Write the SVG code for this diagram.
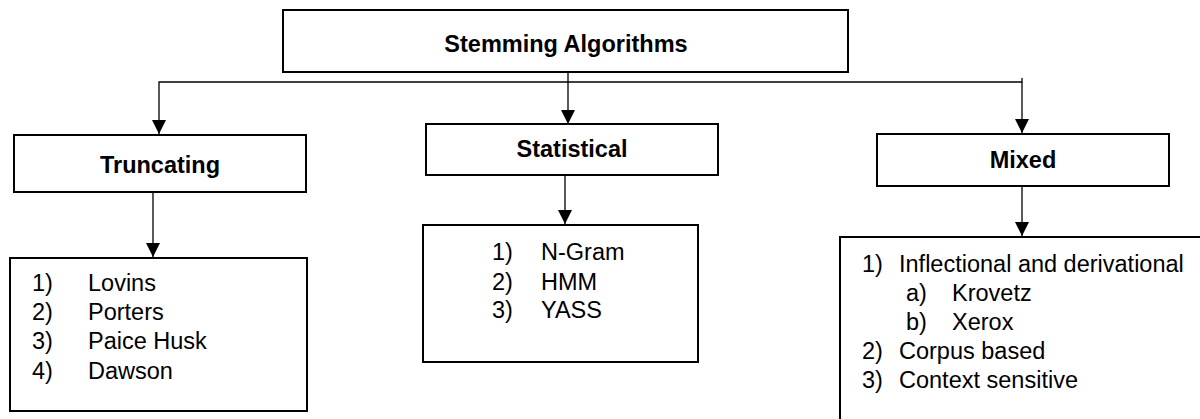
<svg xmlns="http://www.w3.org/2000/svg" width="1200" height="419" viewBox="0 0 1200 419">
<style>
.box{fill:#fff;stroke:#000;stroke-width:2}
.hd{font-family:"Liberation Sans",Arial,sans-serif;font-weight:bold;font-size:23.5px;text-anchor:middle;fill:#000}
.li{font-family:"Liberation Sans",Arial,sans-serif;font-size:23.5px;fill:#000}
.cn{fill:none;stroke:#000;stroke-width:1.3}
</style>
<defs>
<marker id="ah" markerWidth="14" markerHeight="14" viewBox="0 0 14 14" refX="14" refY="7" orient="auto" markerUnits="userSpaceOnUse">
<path d="M0,0 L14,7 L0,14 Z" fill="#000"/>
</marker>
</defs>
<g id="connectors">
<path class="cn" d="M1022,78 L1022,82 L159,82 L159,134" marker-end="url(#ah)"/>
<path class="cn" d="M568,72 L568,124" marker-end="url(#ah)"/>
<path class="cn" d="M1022,82 L1022,133" marker-end="url(#ah)"/>
<path class="cn" d="M153,193 L153,257" marker-end="url(#ah)"/>
<path class="cn" d="M565,175 L565,224" marker-end="url(#ah)"/>
<path class="cn" d="M1022,186 L1022,236" marker-end="url(#ah)"/>
</g>
<g id="root">
<rect class="box" x="283" y="10" width="565" height="62"/>
<text class="hd" x="566" y="52">Stemming Algorithms</text>
</g>
<g id="truncating">
<rect class="box" x="14" y="135" width="292" height="57"/>
<text class="hd" x="160" y="173">Truncating</text>
</g>
<g id="statistical">
<rect class="box" x="426" y="124" width="292" height="51"/>
<text class="hd" x="572" y="157">Statistical</text>
</g>
<g id="mixed">
<rect class="box" x="877" y="134" width="292" height="52"/>
<text class="hd" x="1023" y="168">Mixed</text>
</g>
<g id="truncating-list">
<rect class="box" x="10" y="258" width="297" height="153"/>
<text class="li" x="32" y="291">1)</text><text class="li" x="88" y="291">Lovins</text>
<text class="li" x="32" y="320">2)</text><text class="li" x="88" y="320">Porters</text>
<text class="li" x="32" y="349">3)</text><text class="li" x="88" y="349">Paice Husk</text>
<text class="li" x="32" y="379">4)</text><text class="li" x="88" y="379">Dawson</text>
</g>
<g id="statistical-list">
<rect class="box" x="423" y="225" width="275" height="137"/>
<text class="li" x="492" y="260">1)</text><text class="li" x="541" y="260">N-Gram</text>
<text class="li" x="492" y="290">2)</text><text class="li" x="541" y="290">HMM</text>
<text class="li" x="492" y="318">3)</text><text class="li" x="541" y="318">YASS</text>
</g>
<g id="mixed-list">
<rect class="box" x="840" y="237" width="380" height="200"/>
<text class="li" x="862" y="272">1)</text><text class="li" x="899" y="272">Inflectional and derivational</text>
<text class="li" x="906" y="301">a)</text><text class="li" x="952" y="301">Krovetz</text>
<text class="li" x="906" y="330">b)</text><text class="li" x="952" y="330">Xerox</text>
<text class="li" x="862" y="359">2)</text><text class="li" x="899" y="359">Corpus based</text>
<text class="li" x="862" y="388">3)</text><text class="li" x="899" y="388">Context sensitive</text>
</g>
</svg>
